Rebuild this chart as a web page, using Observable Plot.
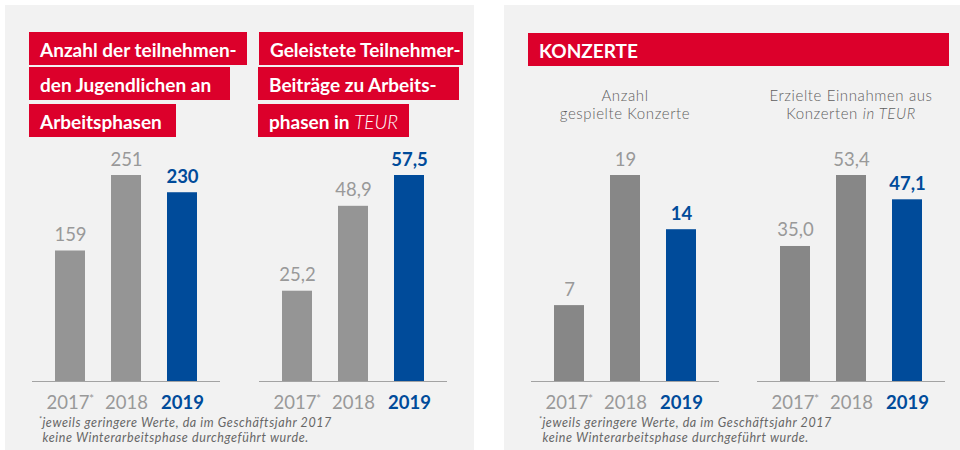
<!DOCTYPE html>
<html><head><meta charset="utf-8">
<script src="https://cdn.jsdelivr.net/npm/d3@7"></script>
<script src="https://cdn.jsdelivr.net/npm/@observablehq/plot@0.6"></script>
<style>
body{margin:0;background:#fff;font-family:Lato,"Open Sans",sans-serif;}
#root{position:relative;width:960px;height:450px;overflow:hidden;}
.panel{position:absolute;background:#f2f2f2;top:5px;height:445px;}
.box{position:absolute;background:#dc002b;color:#fff;font-weight:700;font-size:19px;line-height:33px;height:33px;padding-left:11px;padding-top:1px;box-sizing:border-box;white-space:nowrap;}
.sub{position:absolute;color:#5f5f5f;font-size:15px;letter-spacing:0.6px;font-weight:300;text-align:center;line-height:18px;width:240px;white-space:nowrap;}
.note{position:absolute;color:#666;font-style:italic;font-size:12.5px;letter-spacing:0.6px;line-height:15px;white-space:nowrap;}
.note sup{font-size:7px;vertical-align:5px;line-height:0;}
.chart{position:absolute;top:140px;}
</style></head>
<body><div id="root">
<div class="panel" style="left:5px;width:469px"></div>
<div class="panel" style="left:504px;width:456px"></div>

<div class="box" style="left:29px;top:32px;width:218px">Anzahl der teilnehmen-</div>
<div class="box" style="left:29px;top:67px;width:201px">den Jugendlichen an</div>
<div class="box" style="left:29px;top:104px;width:147px">Arbeitsphasen</div>

<div class="box" style="left:259px;top:32px;width:204px">Geleistete Teilnehmer-</div>
<div class="box" style="left:258px;top:67px;width:201px">Beiträge zu Arbeits-</div>
<div class="box" style="left:258px;top:104px;width:151px">phasen in <i style="font-weight:300">TEUR</i></div>

<div class="box" style="left:528px;top:33px;width:421px">KONZERTE</div>

<div class="sub" style="left:505px;top:86px">Anzahl<br>gespielte Konzerte</div>
<div class="sub" style="left:731px;top:86px">Erzielte Einnahmen aus<br>Konzerten <i>in TEUR</i></div>

<div class="note" style="left:39px;top:415px"><sup>*</sup>jeweils geringere Werte, da im Geschäftsjahr 2017<br>&nbsp;keine Winterarbeitsphase durchgeführt wurde.</div>
<div class="note" style="left:539px;top:415px"><sup>*</sup>jeweils geringere Werte, da im Geschäftsjahr 2017<br>&nbsp;keine Winterarbeitsphase durchgeführt wurde.</div>
</div>
<script>
const years = ["2017", "2018", "2019"];
const starredYears = ["2017"];
const teilnehmer = [159, 251, 230];
const beitraege = [25.2, 48.9, 57.5];
const konzerte = [7, 19, 14];
const einnahmen = [35.0, 53.4, 47.1];

const BLUE = "#004b9a";
const LABEL_GRAY = "#999999";

function chart(values, decimals, barGray, left) {
  const last = years[years.length - 1];
  const data = years.map((year, i) => ({year, value: values[i], current: year === last, starred: starredYears.includes(year)}));
  const fmt = v => decimals ? v.toFixed(decimals).replace(".", ",") : String(v);
  const past = data.filter(d => !d.current);
  const cur = data.filter(d => d.current);
  const plain = past.filter(d => !d.starred);
  const star = past.filter(d => d.starred);
  const p = Plot.plot({
    width: 188, height: 280,
    marginTop: 35, marginBottom: 39, marginLeft: 0, marginRight: 0,
    x: {type: "band", domain: years, range: [0, 188], paddingInner: 0.4643, paddingOuter: 0.4107, axis: null},
    y: {domain: [0, d3.max(values)], axis: null},
    color: {type: "identity"},
    style: {background: "transparent", overflow: "visible", fontFamily: "Lato, 'Open Sans', sans-serif"},
    marks: [
      Plot.barY(data, {x: "year", y: "value", fill: d => d.current ? BLUE : barGray}),
      Plot.ruleY([0], {stroke: "#a3a3a3", strokeWidth: 1.2}),
      Plot.text(past, {x: "year", y: "value", text: d => fmt(d.value), dy: -10, lineAnchor: "bottom", fill: LABEL_GRAY, fontSize: 18.5, fontWeight: 400}),
      Plot.text(cur, {x: "year", y: "value", text: d => fmt(d.value), dy: -10, lineAnchor: "bottom", fill: BLUE, fontSize: 18.5, fontWeight: 700}),
      Plot.text(plain, {x: "year", y: () => 0, text: "year", dy: 27, lineAnchor: "bottom", fill: LABEL_GRAY, fontSize: 18.5, fontWeight: 400}),
      Plot.text(star, {x: "year", y: () => 0, text: "year", dx: -2.5, dy: 27, lineAnchor: "bottom", fill: LABEL_GRAY, fontSize: 18.5, fontWeight: 400}),
      Plot.text(star, {x: "year", y: () => 0, text: () => "*", dx: 21, dy: 21, lineAnchor: "bottom", fill: LABEL_GRAY, fontSize: 12, fontWeight: 400}),
      Plot.text(cur, {x: "year", y: () => 0, text: "year", dy: 27, lineAnchor: "bottom", fill: BLUE, fontSize: 18.5, fontWeight: 700})
    ]
  });
  p.classList.add("chart");
  p.style.left = left + "px";
  document.getElementById("root").appendChild(p);
}

chart(teilnehmer, 0, "#959595", 32);
chart(beitraege, 1, "#959595", 259);
chart(konzerte, 0, "#878787", 531);
chart(einnahmen, 1, "#878787", 757);
</script>
</body></html>
